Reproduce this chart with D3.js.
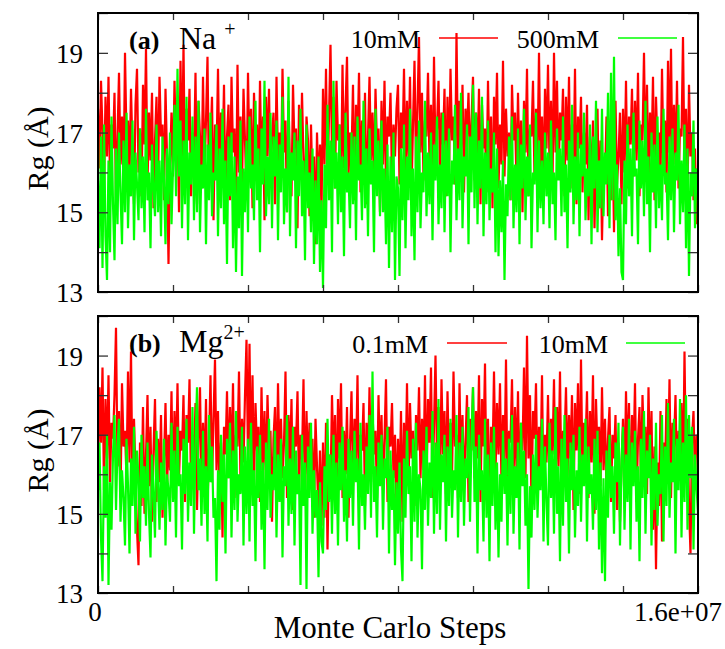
<!DOCTYPE html>
<html><head><meta charset="utf-8">
<script src="https://cdn.jsdelivr.net/npm/d3@7"></script>
<style>body{margin:0;background:#fff}svg{display:block}text{font-family:"Liberation Serif","Times New Roman",serif;fill:#000}</style>
</head><body>
<script>
const xTicks = [0,2e6,4e6,6e6,8e6,10e6,12e6,14e6,16e6];
const xTickLabels = {0:"0",16000000:"1.6e+07"};
const yTicks = [13,14,15,16,17,18,19,20];
const yTickLabels = {13:"13",15:"15",17:"17",19:"19"};
const stepSize = 4e4;

const naLow = [
17.6,16.1,18.3,17.0,15.5,17.9,16.4,18.4,15.8,17.2,
16.6,18.0,15.3,16.9,18.5,16.2,17.4,15.6,19.0,16.8,
17.3,15.9,18.1,16.5,15.2,17.7,18.6,16.0,17.1,15.4,
18.2,16.7,19.1,15.7,17.5,16.3,18.0,15.1,16.8,17.9,
15.6,18.4,16.9,17.2,15.3,18.1,16.4,13.7,16.2,17.5,
15.9,18.3,16.6,17.4,15.0,18.8,16.1,19.2,15.7,17.6,
16.8,18.1,15.4,17.0,16.3,18.5,15.2,17.8,16.9,15.6,
18.4,16.0,17.3,18.9,15.5,16.7,17.9,14.8,17.2,16.4,
18.6,15.8,17.5,16.2,18.2,15.1,16.9,17.7,15.3,18.4,
16.5,17.1,14.9,18.7,16.0,17.4,15.6,18.1,16.8,15.4,
18.5,16.3,17.6,15.1,18.0,16.7,17.2,15.5,18.3,16.0,
17.4,14.8,17.9,16.4,18.1,15.7,16.9,17.5,15.2,18.4,
16.2,17.0,15.8,18.6,16.5,17.3,15.0,17.8,16.1,15.4,
18.2,16.6,17.1,14.6,17.7,15.9,18.0,16.3,15.3,17.4,
16.8,14.9,17.2,15.6,16.4,14.2,17.0,15.5,16.7,15.0,
18.1,16.2,18.6,15.8,17.4,19.2,16.5,17.9,15.6,18.3,
16.8,17.2,15.4,18.7,16.1,17.6,18.9,15.9,17.0,16.4,
18.2,15.3,17.7,16.7,18.5,15.5,17.3,16.0,18.0,15.2,
16.9,18.4,16.3,17.5,15.7,18.1,16.6,17.1,15.0,17.8,
16.2,18.3,15.6,17.4,16.9,18.0,15.8,17.2,16.4,17.6,
18.2,15.7,17.5,16.6,18.6,15.9,17.8,16.3,18.4,15.5,
17.2,18.8,16.1,17.6,19.4,16.5,18.0,15.8,17.3,16.9,
18.5,16.2,17.7,15.6,18.9,16.4,17.1,18.3,15.9,17.5,
16.7,18.1,15.4,17.9,16.0,18.6,16.8,17.4,15.7,19.5,
16.3,17.8,16.6,18.2,15.5,17.6,16.9,18.0,16.1,17.3,
18.4,15.8,17.5,16.3,18.1,15.2,17.7,16.6,17.1,15.5,
18.3,16.0,17.4,15.1,17.9,16.7,18.5,15.6,17.2,16.2,
18.8,15.9,17.6,16.4,17.0,15.3,18.2,16.8,17.5,15.7,
18.0,16.1,17.3,15.0,17.8,16.5,18.6,15.4,17.1,16.9,
18.3,15.8,17.6,16.3,19.0,16.0,17.4,15.6,18.1,16.6,
18.7,16.2,17.8,15.7,19.0,16.5,18.3,15.9,17.5,16.8,
18.1,15.4,17.9,16.3,18.4,15.6,17.2,16.0,18.6,15.2,
17.4,16.6,17.9,15.5,17.0,16.2,17.7,14.8,16.9,15.6,
17.3,14.6,16.5,17.6,15.1,16.8,14.3,16.3,15.8,17.4,
14.9,16.7,15.3,17.1,14.5,17.8,15.7,16.4,17.5,15.2,
17.6,16.0,18.3,15.6,17.4,16.7,18.1,15.9,17.8,16.3,
18.5,15.4,17.2,16.8,19.0,16.1,18.2,15.7,17.5,16.4,
18.4,15.3,17.9,16.6,17.0,15.8,18.6,16.2,17.3,15.5,
18.8,16.5,19.1,15.9,17.7,16.2,18.3,15.6,17.1,16.9,
19.4,16.0,17.6,15.4,18.2,16.4,17.0,15.3,16.6,14.7,
16.1];

const naHigh = [
15.8,14.1,16.9,13.6,17.2,14.4,13.3,16.3,14.0,17.4,
15.2,13.8,16.6,14.7,17.0,15.5,14.2,16.8,15.0,17.5,
14.6,16.2,15.4,17.3,14.3,16.5,15.7,14.8,17.1,15.1,
16.4,14.5,17.6,15.3,16.0,14.1,16.7,15.6,14.9,17.2,
15.0,16.3,14.4,16.9,15.8,14.2,16.6,15.2,17.0,14.7,
16.1,17.7,15.4,18.6,15.9,17.3,14.6,16.8,15.2,17.9,
14.3,16.5,15.7,17.4,14.8,16.9,15.0,17.8,14.5,16.2,
15.6,17.1,14.2,16.7,15.3,17.5,14.9,16.0,15.8,17.2,
14.4,16.6,15.1,17.6,14.7,16.3,13.7,16.9,15.4,17.0,
14.1,16.4,13.5,15.9,14.6,17.3,13.4,16.1,15.0,16.8,
14.5,17.4,15.6,16.2,14.8,17.8,15.3,16.6,14.0,17.1,
15.7,18.3,14.9,16.4,15.2,17.5,14.6,16.9,15.9,17.3,
14.3,16.7,15.5,17.9,14.7,16.1,15.0,18.4,14.4,16.5,
15.8,17.0,14.1,16.8,15.4,17.6,14.9,16.3,13.8,17.2,
15.1,16.0,14.5,16.6,13.7,15.8,14.2,16.4,13.5,15.3,
13.1,16.2,14.6,17.7,15.3,16.8,14.0,18.3,15.6,16.5,
14.7,17.2,15.0,16.4,13.9,17.5,15.5,16.0,14.6,17.0,
15.2,16.9,14.3,17.4,15.8,16.2,14.8,17.8,15.1,16.6,
14.4,17.1,15.7,16.3,14.0,17.6,15.4,16.8,14.9,17.3,
15.0,16.1,14.2,16.7,13.6,16.4,14.5,17.0,13.3,15.9,
15.6,13.4,16.6,14.8,17.2,14.1,16.4,15.3,17.6,14.4,
16.1,13.8,16.9,15.0,17.3,14.6,16.0,15.5,17.8,14.9,
16.5,15.2,17.0,14.3,16.7,15.8,17.4,14.7,16.2,15.1,
17.5,14.5,16.8,15.4,17.1,14.0,16.3,15.7,17.7,14.8,
16.6,15.3,18.0,14.6,16.4,15.9,17.2,14.2,16.9,15.5,
18.2,15.1,17.5,14.7,16.8,15.6,17.9,14.4,16.5,15.2,
17.3,14.8,16.1,15.5,17.0,14.0,16.6,13.9,15.8,14.5,
16.3,13.3,15.7,14.9,16.9,15.3,17.4,14.6,16.2,15.0,
17.1,14.2,16.7,15.6,17.6,14.8,16.4,15.4,17.2,14.1,
16.0,15.7,17.5,14.5,16.8,15.1,16.3,14.7,17.0,15.4,
16.5,14.6,17.3,15.2,16.0,14.3,17.1,15.8,16.6,14.9,
17.4,15.0,16.2,14.1,16.8,15.5,17.7,14.7,16.4,15.3,
17.0,14.4,16.7,15.9,17.5,14.8,16.1,15.4,17.2,14.2,
16.9,15.6,17.8,14.5,16.3,15.1,17.6,14.9,16.5,15.7,
18.0,14.6,18.5,15.3,18.9,14.8,16.2,13.9,15.6,13.5,
13.3,16.3,14.7,17.2,15.4,16.6,14.4,17.5,15.9,16.1,
14.2,17.3,15.6,16.8,14.9,17.8,15.2,16.4,14.0,17.0,
15.5,16.7,14.6,17.4,15.1,16.2,14.8,17.6,15.7,16.0,
14.3,16.9,15.3,17.1,14.5,16.5,15.8,17.7,14.7,16.3,
15.0,17.2,14.1,16.6,13.4,16.0,15.4,17.3,14.6,16.1,
15.5];

const mgLow = [
16.0,18.2,16.8,18.7,15.6,17.9,16.4,18.5,15.8,17.3,
16.9,18.0,19.7,16.2,17.6,15.4,18.3,16.7,17.1,15.9,
18.6,16.3,19.1,15.5,17.4,16.0,14.6,13.7,16.8,15.2,
17.7,15.0,16.5,18.0,15.7,17.2,14.8,16.6,17.9,15.3,
16.9,15.8,17.5,14.9,16.3,17.8,15.6,17.0,16.1,18.1,
15.4,17.6,16.2,18.3,15.9,17.1,16.6,18.0,15.3,17.5,
16.8,18.4,15.7,17.0,16.3,17.8,15.1,16.9,18.2,15.6,
17.3,16.0,17.9,15.2,16.7,18.5,15.8,17.4,18.9,16.1,
17.6,15.5,16.8,14.4,17.2,16.5,18.1,15.9,17.7,16.2,
18.3,15.4,17.0,16.7,18.6,15.8,17.4,16.3,18.0,19.4,
16.4,19.3,16.0,18.5,15.7,17.8,16.6,17.2,15.3,18.2,
16.1,17.6,15.8,18.0,16.5,17.1,14.8,16.9,17.7,15.5,
18.3,16.2,17.4,15.9,16.8,18.6,15.4,17.5,16.3,17.9,
15.1,17.2,16.7,18.1,15.6,17.0,16.4,18.4,15.2,17.6,
16.0,17.3,15.7,16.9,14.9,17.4,16.2,15.0,16.6,14.7,
16.8,14.9,17.3,14.1,16.5,15.6,18.0,16.2,17.5,15.1,
17.9,16.4,18.3,15.4,17.1,16.0,17.7,14.9,16.8,18.1,
15.7,17.4,16.3,18.5,15.5,17.0,16.6,17.8,15.2,17.3,
16.1,18.2,15.8,17.6,16.5,17.1,15.4,18.0,16.2,17.5,
15.6,16.9,18.4,15.3,17.2,16.7,17.8,15.9,17.0,15.2,
16.9,15.5,17.6,14.8,17.3,16.0,18.3,15.7,17.8,16.4,
17.1,15.2,17.5,16.6,18.2,15.9,17.4,16.1,18.5,15.6,
17.9,16.8,18.7,15.4,17.2,19.0,16.3,17.7,15.8,18.4,
16.5,17.6,15.5,18.1,16.2,17.3,15.9,18.6,16.7,17.0,
15.4,18.3,16.1,17.5,15.7,16.8,18.0,15.3,17.4,16.6,
18.2,15.9,17.6,16.4,18.5,15.3,17.9,16.7,18.8,15.6,
17.4,14.9,17.2,16.3,18.6,16.0,17.8,16.5,18.3,15.7,
17.5,16.2,18.9,15.4,17.1,16.8,18.4,15.8,17.7,16.1,
18.1,15.5,17.3,16.6,18.7,15.9,19.5,16.4,18.0,15.2,
17.6,16.9,18.3,15.6,17.2,16.0,18.5,15.4,17.0,16.3,
18.0,15.8,17.4,16.5,18.4,15.6,17.7,16.2,18.6,15.3,
17.1,16.8,18.2,15.9,17.5,16.4,18.0,15.1,17.8,16.6,
18.3,15.5,18.9,16.0,17.3,16.7,18.1,15.4,17.6,16.3,
18.5,15.0,17.9,16.5,17.2,15.7,18.2,16.1,17.4,15.6,
16.9,17.7,15.3,17.0,16.4,17.5,15.1,16.8,14.8,16.2,
17.4,15.6,18.1,16.2,17.8,15.0,17.5,16.4,18.3,15.3,
16.9,17.7,15.8,18.0,16.6,17.2,15.5,18.2,16.0,17.6,
14.6,16.7,13.6,16.3,15.2,17.6,14.3,16.8,15.9,17.9,
16.1,18.4,15.4,17.3,16.7,18.0,15.7,17.1,16.3,17.8,
15.6,19.1,16.0,17.4,15.2,14.0,16.9,17.6,15.8,17.0,
16.6];

const mgHigh = [
15.6,16.8,14.4,13.3,16.2,14.9,17.0,13.2,15.8,14.6,
16.5,17.5,15.1,16.7,17.4,14.8,16.1,15.4,14.2,16.9,
15.7,14.0,16.4,15.2,17.2,14.5,16.6,15.9,14.3,17.0,
15.4,16.2,14.7,16.8,15.0,13.9,16.5,15.5,14.4,17.1,
15.8,14.6,16.3,15.1,16.9,14.2,16.0,15.6,14.8,17.3,
15.3,16.6,14.4,17.2,15.7,16.0,14.1,16.9,15.5,17.4,
14.8,16.3,15.2,17.7,14.5,16.8,18.2,15.6,16.4,14.7,
17.1,15.0,16.2,14.3,17.5,15.8,16.7,14.9,15.4,13.3,
16.1,14.6,17.0,15.3,16.5,14.0,16.9,15.9,17.3,14.4,
16.6,15.1,17.6,14.8,16.0,15.5,17.2,14.2,16.7,15.0,
16.9,14.3,17.3,15.2,16.1,13.8,16.7,15.4,17.0,14.6,
16.3,13.6,16.8,15.1,17.4,14.9,16.0,15.6,17.1,14.4,
16.5,15.3,16.9,13.9,16.2,15.7,17.5,14.7,16.4,15.0,
17.2,14.2,16.6,15.5,16.0,13.2,17.0,15.2,16.3,13.1,
16.7,15.4,17.3,14.5,16.1,14.9,15.6,13.4,15.8,14.3,
14.0,16.2,15.1,17.4,15.3,16.5,14.5,17.0,15.0,16.3,
14.2,16.8,15.6,17.2,14.8,16.1,14.3,16.9,15.4,16.6,
14.7,17.1,15.8,16.4,14.1,17.3,15.2,16.0,14.6,16.7,
15.5,17.5,14.9,18.6,15.3,16.2,14.4,16.8,15.7,17.0,
14.6,16.4,15.9,17.2,14.0,16.6,15.1,16.1,13.7,15.8,
14.5,16.3,14.1,13.3,16.4,14.9,17.1,15.5,16.2,13.8,
16.9,14.8,17.3,14.4,16.0,15.6,13.6,16.6,15.1,17.2,
14.7,16.3,15.4,17.6,14.5,16.8,15.0,17.9,14.6,16.5,
15.8,17.0,14.3,16.7,15.2,17.4,14.9,16.1,15.6,17.5,
14.4,16.8,15.3,17.2,14.7,16.4,15.9,17.7,14.8,16.9,
18.2,15.3,16.7,14.0,17.0,15.6,16.1,14.3,17.4,14.9,
16.5,13.8,16.8,15.2,17.2,14.6,16.3,13.9,16.0,14.8,
17.1,15.5,16.4,14.2,16.9,15.0,17.5,14.5,16.2,15.4,
16.8,14.1,17.3,15.7,16.6,14.7,16.0,13.1,15.7,14.4,
16.5,15.1,17.0,14.9,16.2,15.6,17.4,14.3,16.7,15.3,
14.2,17.3,15.4,16.6,14.5,17.7,15.0,16.2,13.8,16.9,
14.7,17.5,15.3,16.4,14.0,16.8,15.6,17.0,14.4,16.1,
15.2,17.2,14.8,16.5,15.7,17.4,14.3,16.7,15.5,16.0,
14.6,16.9,15.1,17.1,14.1,16.3,13.5,15.9,13.3,16.6,
14.9,17.0,15.4,16.2,14.5,16.8,15.8,17.3,14.2,16.4,
17.2,14.6,16.5,15.3,17.4,14.1,16.8,15.7,17.1,14.8,
16.2,13.8,16.9,15.4,17.6,14.5,16.6,15.9,17.0,14.2,
16.4,15.1,17.3,14.7,16.0,15.5,17.5,14.3,16.7,15.2,
17.8,14.9,16.3,15.8,17.4,14.0,16.9,15.6,17.9,14.4,
16.8,15.3,18.0,14.6,17.5,15.9,17.2,14.1,16.5,15.7,
15.0];

const panels = [
  {top:13, bottom:292, tag:"(a)", ion:"Na", sup:"+", names:["10mM","500mM"], series:[naLow, naHigh], legY:38, labY:49, nameEnd:[420,599], lineX:[[439,498],[618,677]]},
  {top:316, bottom:593, tag:"(b)", ion:"Mg", sup:"2+", names:["0.1mM","10mM"], series:[mgLow, mgHigh], legY:343, labY:352, nameEnd:[428,608], lineX:[[447,507],[626,685]]}
];
const colors = ["#ff0000","#00ff00"];

const W = 725, H = 649, L = 98, R = 698;
const svg = d3.select("body").append("svg").attr("width", W).attr("height", H);
const x = d3.scaleLinear().domain([0, 1.6e7]).range([L, R]);

panels.forEach((p, pi) => {
  const y = d3.scaleLinear().domain([13, 20]).range([p.bottom, p.top]);
  const g = svg.append("g");
  const cid = "clip" + pi;
  svg.append("clipPath").attr("id", cid).append("rect")
    .attr("x", L).attr("y", p.top).attr("width", R - L).attr("height", p.bottom - p.top);
  const line = d3.line().x((d, i) => x(i * stepSize)).y(d => y(d));
  p.series.forEach((s, si) => {
    g.append("path").datum(s).attr("d", line).attr("fill", "none")
      .attr("stroke", colors[si]).attr("stroke-width", 2.2)
      .attr("stroke-linejoin", "miter").attr("stroke-miterlimit", 2.5)
      .attr("clip-path", `url(#${cid})`);
  });
  const ax = g.append("g").attr("transform", `translate(${L},0)`)
    .call(d3.axisLeft(y).tickValues(yTicks).tickSize(-10).tickPadding(14)
      .tickFormat(d => yTickLabels[d] || ""));
  const axr = g.append("g").attr("transform", `translate(${R},0)`)
    .call(d3.axisRight(y).tickValues(yTicks).tickSize(-10).tickFormat(""));
  const axb = g.append("g").attr("transform", `translate(0,${p.bottom})`)
    .call(d3.axisBottom(x).tickValues(xTicks).tickSize(-7).tickFormat(""));
  const axt = g.append("g").attr("transform", `translate(0,${p.top})`)
    .call(d3.axisTop(x).tickValues(xTicks).tickSize(-7).tickFormat(""));
  [ax, axr, axb, axt].forEach(a => {
    a.select(".domain").remove();
    a.selectAll(".tick line").attr("stroke", "#333").attr("stroke-width", 1.3);
    a.selectAll(".tick text").style("font-family", '"Liberation Serif",serif').style("font-size", "27px").attr("fill", "#000");
  });
  ax.selectAll(".tick text").attr("x", -15).attr("dy", "0.35em");
  g.append("rect").attr("x", L).attr("y", p.top).attr("width", R - L).attr("height", p.bottom - p.top)
    .attr("fill", "none").attr("stroke", "#000").attr("stroke-width", 2);
  g.append("text").attr("x", 129).attr("y", p.labY).style("font-size", "26px").style("font-weight", "bold").text(p.tag);
  const ion = g.append("text").attr("x", 179).attr("y", p.labY).style("font-size", "32px");
  ion.append("tspan").text(p.ion);
  ion.append("tspan").attr("dx", p.sup === "+" ? 8 : 0).attr("dy", -13).style("font-size", "20px").text(p.sup);
  p.names.forEach((n, ni) => {
    g.append("text").attr("x", p.nameEnd[ni]).attr("y", p.legY + 10).attr("text-anchor", "end")
      .style("font-size", "26px").text(n);
    g.append("line").attr("x1", p.lineX[ni][0]).attr("x2", p.lineX[ni][1])
      .attr("y1", p.legY).attr("y2", p.legY).attr("stroke", colors[ni]).attr("stroke-width", 1.5);
  });
  svg.append("text").attr("transform", `translate(48,${(p.top + p.bottom) / 2 - 4}) rotate(-90)`)
    .attr("text-anchor", "middle").style("font-size", "30px").text("Rg (Å)");
});

Object.keys(xTickLabels).forEach(k => {
  const v = +k;
  svg.append("text").attr("x", v === 0 ? x(v) - 3 : 722).attr("y", 621)
    .attr("text-anchor", v === 0 ? "middle" : "end").style("font-size", "27px").text(xTickLabels[k]);
});
svg.append("text").attr("x", 390).attr("y", 638).attr("text-anchor", "middle").style("font-size", "31px").text("Monte Carlo Steps");
</script>
</body></html>
